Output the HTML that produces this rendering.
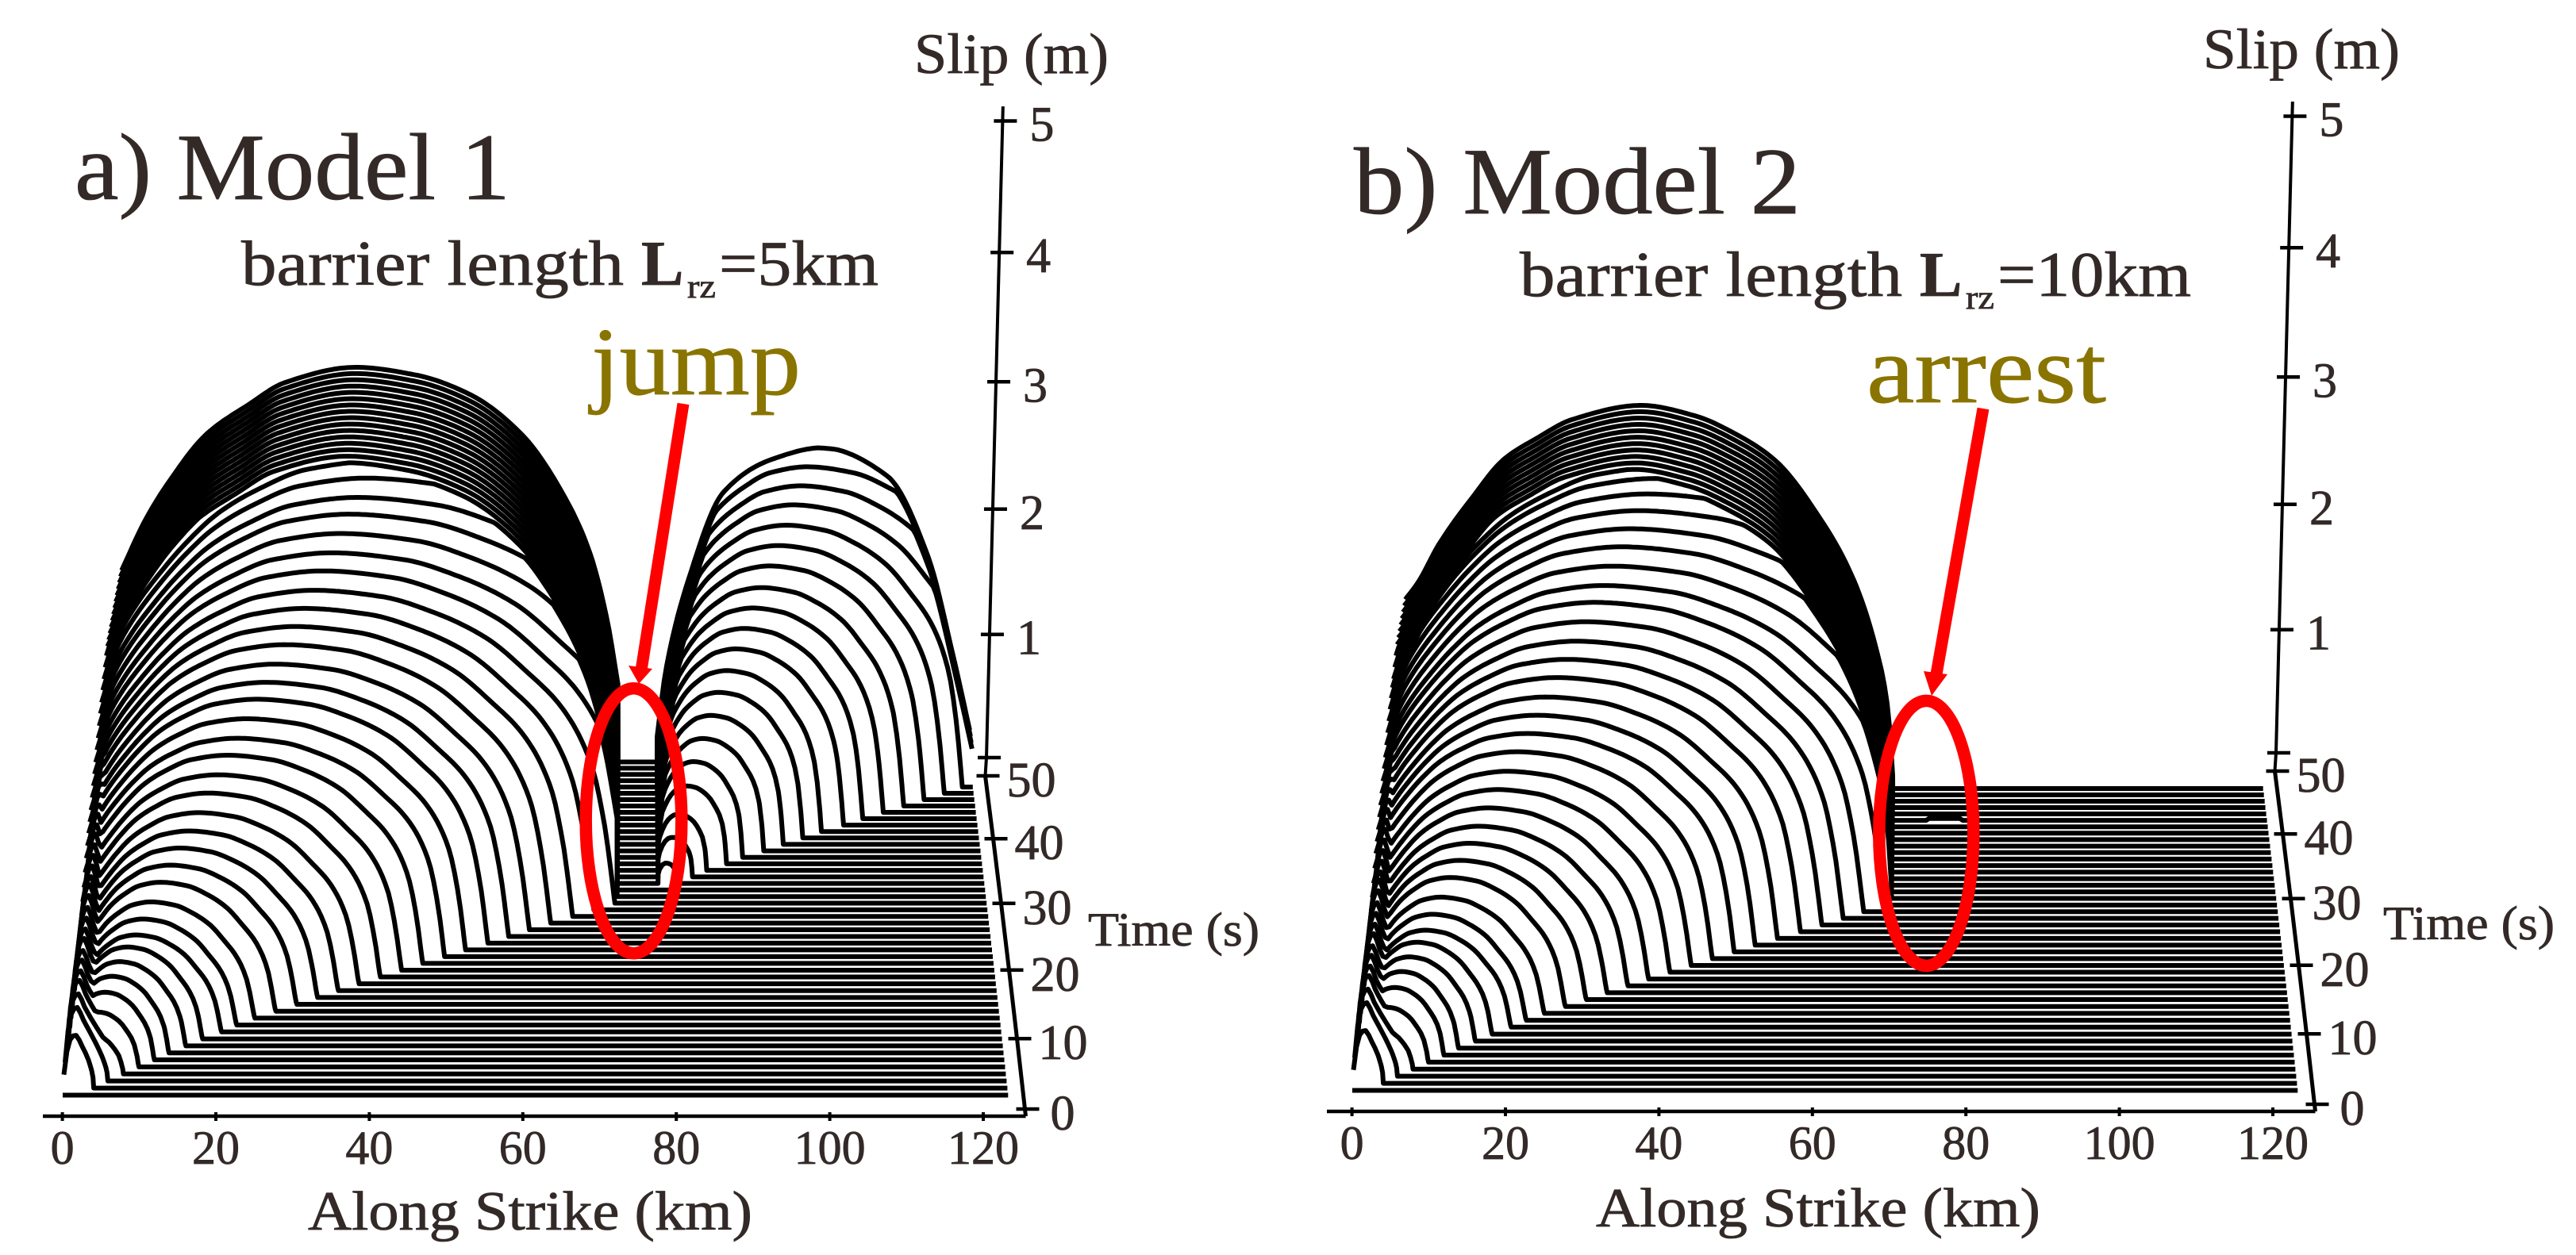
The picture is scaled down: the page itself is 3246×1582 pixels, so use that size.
<!DOCTYPE html>
<html lang="en">
<head>
<meta charset="utf-8">
<title>Slip evolution: Model 1 and Model 2</title>
<style>
html,body{margin:0;padding:0;background:#fff;width:3246px;height:1582px;overflow:hidden}
svg{display:block}
text{font-family:"Liberation Serif",serif;fill:#332a28;stroke:#332a28;stroke-width:.8}
</style>
</head>
<body>
<svg id="figure" xmlns="http://www.w3.org/2000/svg" width="3246" height="1582" viewBox="0 0 3246 1582">
  <rect x="0" y="0" width="3246" height="1582" fill="#ffffff"/>
  <g id="panelA"></g>
  <g id="panelB" transform="translate(1625,-6)"></g>

  <text x="94" y="251" font-size="120" textLength="549" lengthAdjust="spacingAndGlyphs">a) Model 1</text>
  <text x="304" y="359" font-size="80" textLength="482" lengthAdjust="spacingAndGlyphs">barrier length</text>
  <text x="808" y="359" font-size="80" font-weight="bold">L</text>
  <text x="866" y="375" font-size="42" textLength="36" lengthAdjust="spacingAndGlyphs">rz</text>
  <text x="906" y="359" font-size="80" textLength="201" lengthAdjust="spacingAndGlyphs">=5km</text>
  <text x="745" y="497" font-size="122" textLength="264" lengthAdjust="spacingAndGlyphs" style="fill:#8a7400;stroke:#8a7400">jump</text>
  <text x="1152" y="92" font-size="72" textLength="245" lengthAdjust="spacingAndGlyphs">Slip (m)</text>
  <text x="1371" y="1192" font-size="60" textLength="216" lengthAdjust="spacingAndGlyphs">Time (s)</text>
  <text x="388" y="1550" font-size="70" textLength="560" lengthAdjust="spacingAndGlyphs">Along Strike (km)</text>

  <text x="1706" y="269" font-size="120" textLength="563" lengthAdjust="spacingAndGlyphs">b) Model 2</text>
  <text x="1915" y="373" font-size="80" textLength="482" lengthAdjust="spacingAndGlyphs">barrier length</text>
  <text x="2419" y="373" font-size="80" font-weight="bold">L</text>
  <text x="2477" y="389" font-size="42" textLength="36" lengthAdjust="spacingAndGlyphs">rz</text>
  <text x="2517" y="373" font-size="80" textLength="244" lengthAdjust="spacingAndGlyphs">=10km</text>
  <text x="2352" y="507" font-size="122" textLength="302" lengthAdjust="spacingAndGlyphs" style="fill:#8a7400;stroke:#8a7400">arrest</text>
  <text x="2776" y="86" font-size="72" textLength="248" lengthAdjust="spacingAndGlyphs">Slip (m)</text>
  <text x="3003" y="1184" font-size="60" textLength="216" lengthAdjust="spacingAndGlyphs">Time (s)</text>
  <text x="2011" y="1546" font-size="70" textLength="560" lengthAdjust="spacingAndGlyphs">Along Strike (km)</text>

  <ellipse cx="798.5" cy="1034.7" rx="60.3" ry="167" fill="none" stroke="#ff0000" stroke-width="15.5"/>
  <line x1="861" y1="509" x2="808" y2="845" stroke="#ff0000" stroke-width="15"/>
  <polygon points="792,839 822,843 805,862" fill="#ff0000"/>
  <ellipse cx="2427.3" cy="1050.4" rx="59.5" ry="167" fill="none" stroke="#ff0000" stroke-width="15.5"/>
  <line x1="2499" y1="515" x2="2440" y2="850" stroke="#ff0000" stroke-width="15"/>
  <polygon points="2424,846 2454,850 2434,877" fill="#ff0000"/>
</svg>
<script>
/* ---------- tick labels ---------- */
const strikeTicksKm = [0, 20, 40, 60, 80, 100, 120];
const timeTicksS = [0, 10, 20, 30, 40, 50];
const slipTicksM = [0, 1, 2, 3, 4, 5];
const traceEndKm = 123.2;

/* ---------- model 1: one value per time step, t = 0..50 s ---------- */
const model1TipKm = [0,3.9,5.6,7.5,9.4,11.3,13.1,15.2,17.3,19.7,21.6,23.9,26.6,29.3,32,34.7,37.4,40.2,43,45.8,48.7,51.5,54.5,57.3,60.1,63,66,68.9,71.8,74.4,77.1,79.8,82.4,85,87.7,90.4,93,95.7,98.3,101,103.6,106.3,109,111.6,114.2,116.9,119.5,122.2,124.8,127.5,130.1];
const model1PeakM = [0,.09,.22,.31,.43,.53,.60,.66,.72,.76,.83,.91,1.01,1.09,1.17,1.25,1.34,1.44,1.53,1.63,1.71,1.81,1.91,1.99,2.08,2.18,2.27,2.36,2.45,2.55,2.64,2.74,2.84,2.92,3.02,3.10,3.19,3.28,3.36,3.44,3.52,3.60,3.68,3.76,3.84,3.92,4.0,4.08,4.16,4.24,4.32];
const wallPeakM = [0,.42,.58,.63,.68,.70,.73,.75,.79,.81,.84,.87,.91,.94,.95,.98,1.01,1.04,1.07,1.09,1.12,1.14,1.17,1.20,1.22,1.25,1.28,1.31,1.34,1.35,1.36,1.37,1.39,1.40,1.41,1.42,1.43,1.45,1.46,1.47,1.47,1.48,1.48,1.49,1.50,1.50,1.51,1.51,1.51,1.52,1.52];
const model1FinalKm = [0,3.4,6.7,12.4,18.5,23.7,34,42.7,50.5,58.2,64.3,68,70.5,72.1];
const model1FinalM = [1.5,1.89,2.18,2.57,2.80,2.97,3.09,3.03,2.88,2.56,2.08,1.64,1.12,.61];
const model1BarrierKm = 72.1;

/* model 1, segment beyond the barrier: rupture resumes at t = 31 s */
const model1SecondStartKm = 77.8;
const secondTimes = [31,32,33,34,35,36,37,38,39,40,41,42,43,44,45,46,47,48,49,50];
const secondTipKm = [80.5,82.6,84.6,87.4,89.7,92.7,95.5,98.3,101,104.2,107,110,113,116,119,121.7,124.4,127,129.5,132];
const secondPeakM = [.16,.31,.44,.61,.75,.88,1.01,1.14,1.26,1.38,1.49,1.60,1.71,1.83,1.94,2.05,2.16,2.26,2.36,2.46];
const secondFinalKm = [77.8,79,82.6,87.4,94.5,101.7,111.2,117.2,120.8,123.2];
const secondFinalM = [.2,.70,1.47,2.11,2.37,2.46,2.24,1.60,.83,.25];

/* ---------- model 2: t = 0..45 s ---------- */
const model2TipKm = [0,3.9,5.6,7.5,9.4,11.3,13.1,15.2,17.3,19.7,21.6,23.9,26.6,29.3,32,34.7,37.4,40.2,43,45.8,48.7,51.5,54.5,57.6,60.5,63.4,66.2,69,71.7,74.4,77.1,79.8,82.4,85,87.7,90.4,93,95.7,98.3,101,103.6,106.3,109,111.6,114.2,116.9];
const model2PeakM = [0,.09,.22,.31,.43,.53,.60,.66,.72,.76,.83,.91,1.01,1.09,1.17,1.25,1.34,1.43,1.52,1.62,1.71,1.80,1.89,1.99,2.08,2.17,2.27,2.37,2.45,2.55,2.65,2.74,2.83,2.91,2.98,3.02,3.11,3.20,3.28,3.36,3.44,3.52,3.60,3.68,3.76,3.84];
const model2FinalKm = [0,1.9,4.8,9.5,14.2,18.8,24,33.9,41.5,47.3,53.1,59.5,64.1,67.6,69.4,70];
const model2FinalM = [1.48,1.62,1.91,2.27,2.58,2.74,2.89,3.0,2.92,2.78,2.57,2.12,1.67,1.10,.58,.10];
const model2BarrierKm = 70;
const patchTimes = [40];
const patchSlipM = [.015];
const patchStartKm = 75;
const patchEndKm = 80;

/* ---------- normalised profile shapes ---------- */
const domeShapeU = [0,.02,.047,.088,.131,.178,.24,.316,.42,.55,.65,.75,.83,.9,.955,.98,1];
const domeShapeFrac = [.45,.55,.63,.72,.80,.87,.93,.98,1,.98,.93,.85,.74,.62,.44,.25,0];
/* early cracks are slimmer than later ones: exponent per time step, 1 after t = 20 s */
const domeShapePower = [1.4,1.4,1.4,1.4,1.4,1.4,1.4,1.4,1.4,1.4,1.4,1.36,1.32,1.28,1.24,1.2,1.16,1.12,1.08,1.04,1];
const wallShapeKm = [0,.3,.8,1.5,2.5,4,6,9,14];
const wallShapeFrac = [.25,.6,.9,1,.82,.6,.38,.2,0];

/* ---------- axis functions ---------- */
const kmToPx = 9.67;
function xScale(km, t) {
  const flat = 79 + km * kmToPx;
  return 800 + (flat - 800) * (1 - 0.00206 * t);
}
function yScale(t, slip) {
  return 1380.5 - (8.95 * t - 0.011 * t * t) - slip * 161;
}
function strikeAxisX(km) { return 78.6 + km * kmToPx; }
function timeAxisX(t) { return 1291.5 - t; }
function timeAxisY(t) { return 1398 - 9 * t + 0.012 * t * t; }
function slipAxisY(s) { return 955 - 154 * s - 1.3 * s * s; }
function slipAxisX(s) { return 1243 + (955 - slipAxisY(s)) * 0.0254; }

/* monotone cubic interpolation through a table of read values */
function interp(xs, ys, x) {
  const n = xs.length - 1;
  if (x <= xs[0]) return ys[0];
  if (x >= xs[n]) return ys[n];
  let i = 0;
  while (x > xs[i + 1]) i++;
  const slope = k => (ys[k + 1] - ys[k]) / (xs[k + 1] - xs[k]);
  const tangent = k => {
    if (k === 0) return slope(0);
    if (k === n) return slope(n - 1);
    const a = slope(k - 1), b = slope(k);
    if (a * b <= 0) return 0;
    const h0 = xs[k] - xs[k - 1], h1 = xs[k + 1] - xs[k];
    const w1 = 2 * h1 + h0, w2 = h1 + 2 * h0;
    return (w1 + w2) / (w1 / a + w2 / b);
  };
  const h = xs[i + 1] - xs[i];
  const u = (x - xs[i]) / h;
  const u2 = u * u, u3 = u2 * u;
  return (2 * u3 - 3 * u2 + 1) * ys[i] + (u3 - 2 * u2 + u) * h * tangent(i)
       + (3 * u2 - 2 * u3) * ys[i + 1] + (u3 - u2) * h * tangent(i + 1);
}

function slipAt(model, km, t) {
  if (km <= model.barrier) {
    const tip = model.tip[t];
    if (tip <= 0) return 0;
    const power = t < domeShapePower.length ? domeShapePower[t] : 1;
    const dome = km < tip ? model.peak[t] * Math.pow(interp(domeShapeU, domeShapeFrac, km / tip), power) : 0;
    const limit = interp(model.finalKm, model.finalM, km);
    const taper = km < tip ? Math.sqrt(Math.max(0, 1 - Math.pow(km / tip, 4))) : 0;
    const wall = wallPeakM[t] * interp(wallShapeKm, wallShapeFrac, km) * taper;
    return Math.max(Math.min(dome, limit), wall);
  }
  if (model.second && km >= model1SecondStartKm) {
    const i = secondTimes.indexOf(t);
    if (i < 0) return 0;
    const span = secondTipKm[i] - model1SecondStartKm;
    const u = (km - model1SecondStartKm) / span;
    if (u >= 1) return 0;
    const dome = secondPeakM[i] * interp(domeShapeU, domeShapeFrac, u);
    return Math.min(dome, interp(secondFinalKm, secondFinalM, km));
  }
  if (model.patch && km >= patchStartKm && km <= patchEndKm) {
    const p = patchTimes.indexOf(t);
    if (p >= 0) return patchSlipM[p];
  }
  return 0;
}

const NS = 'http://www.w3.org/2000/svg';
function svgEl(parent, tag, attrs, text) {
  const el = document.createElementNS(NS, tag);
  for (const k in attrs) el.setAttribute(k, attrs[k]);
  if (text !== undefined) el.textContent = text;
  parent.appendChild(el);
  return el;
}

function drawTraces(parent, model) {
  for (let t = 0; t < model.tip.length; t++) {
    const kms = [];
    for (let k = 0; k < traceEndKm; k += 0.4) kms.push(k);
    kms.push(traceEndKm, model.barrier, model.barrier + 0.01);
    const tip = model.tip[t];
    if (tip > 0 && tip < traceEndKm) kms.push(tip, tip - 0.1, tip - 0.25, tip - 0.6);
    if (model.second) {
      kms.push(model1SecondStartKm - 0.01, model1SecondStartKm);
      const i = secondTimes.indexOf(t);
      if (i >= 0 && secondTipKm[i] < traceEndKm) {
        const q = secondTipKm[i];
        kms.push(q - 0.6, q - 0.25, q - 0.1, q - 0.001, q);
      }
    }
    kms.sort((a, b) => a - b);
    const pts = [];
    for (const km of kms) {
      if (km < 0 || km > traceEndKm) continue;
      pts.push(xScale(km, t).toFixed(1) + ',' + yScale(t, slipAt(model, km, t)).toFixed(1));
    }
    const line = svgEl(parent, 'polyline', {
      points: pts.join(' '),
      fill: 'none',
      stroke: '#000',
      'stroke-width': 6,
      'stroke-linejoin': 'round'
    });
    
    
  }
}

function drawAxes(parent, axisStartX) {
  const stroke = '#000';

  const xLine = svgEl(parent, 'line', { x1: axisStartX, y1: 1407, x2: 1292.5, y2: 1407, stroke: stroke, 'stroke-width': 4.5 });
  
  

  for (const km of strikeTicksKm) {
    const x = strikeAxisX(km);
    const tick = svgEl(parent, 'line', { x1: x, y1: 1402, x2: x, y2: 1413, stroke: stroke, 'stroke-width': 4 });
    
    
    const label = svgEl(parent, 'text', { x: x, y: 1467, 'font-size': 60, 'text-anchor': 'middle' }, String(km));
    
    
  }

  const tPts = [[1292.5, 1407]];
  for (const t of timeTicksS) tPts.push([timeAxisX(t), timeAxisY(t)]);
  const tLine = svgEl(parent, 'polyline', { points: tPts.map(p => p.join(',')).join(' '), fill: 'none', stroke: stroke, 'stroke-width': 5 });
  
  

  for (const t of timeTicksS) {
    const x = timeAxisX(t), y = timeAxisY(t);
    const tick = svgEl(parent, 'line', { x1: x - 11, y1: y, x2: x + 18, y2: y, stroke: stroke, 'stroke-width': 4.5 });
    
    
    const label = svgEl(parent, 'text', { x: x + (t === 0 ? 32 : 27), y: y + 26, 'font-size': 62 }, String(t));
    
    
  }

  const sPts = [[timeAxisX(50), timeAxisY(50)]];
  for (const s of slipTicksM) sPts.push([slipAxisX(s), slipAxisY(s)]);
  sPts.push([slipAxisX(5.11), slipAxisY(5.11)]);
  const sLine = svgEl(parent, 'polyline', { points: sPts.map(p => p.join(',')).join(' '), fill: 'none', stroke: stroke, 'stroke-width': 4 });
  
  

  for (const s of slipTicksM) {
    const x = slipAxisX(s), y = slipAxisY(s);
    const tick = svgEl(parent, 'line', { x1: x - 11, y1: y, x2: x + 18, y2: y, stroke: stroke, 'stroke-width': 4.5 });
    
    
    if (s > 0) {
      const label = svgEl(parent, 'text', { x: x + 34, y: y + 25, 'font-size': 62 }, String(s));
      
      
    }
  }
}

const panelA = document.getElementById('panelA');
const panelB = document.getElementById('panelB');
drawTraces(panelA, { key: 'model1', tip: model1TipKm, peak: model1PeakM, finalKm: model1FinalKm, finalM: model1FinalM, barrier: model1BarrierKm, second: true, patch: false });
drawTraces(panelB, { key: 'model2', tip: model2TipKm, peak: model2PeakM, finalKm: model2FinalKm, finalM: model2FinalM, barrier: model2BarrierKm, second: false, patch: true });
drawAxes(panelA, 54);
drawAxes(panelB, 47);
</script>
</body>
</html>
